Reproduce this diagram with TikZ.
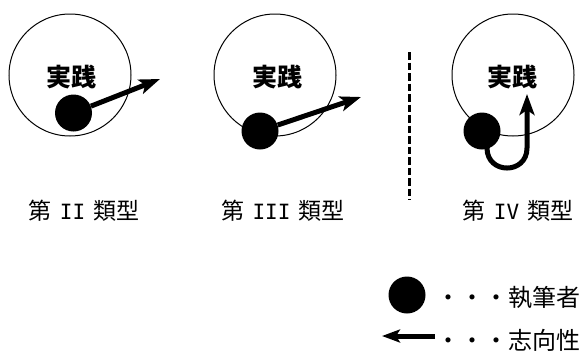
\documentclass[tikz,border=0pt]{standalone}
\usepackage{fontspec}
\setmainfont{Noto Sans CJK JP}
\newfontfamily\romnum{DejaVu Sans Mono}
\usetikzlibrary{arrows.meta}
\newcommand{\rn}[1]{\hspace{3pt}{\romnum\fontsize{21}{26}\selectfont #1}\hspace{3pt}}
\tikzset{
  ring/.style={circle, draw, line width=1pt, minimum size=122pt, inner sep=0pt},
  writer/.style={circle, fill=black, minimum size=37pt, inner sep=0pt},
  aim/.style={line width=5pt, -{Stealth[length=21pt,width=15pt,inset=5pt]}},
  label/.style={font=\fontsize{25}{28}\selectfont\bfseries, inner sep=0pt},
  caption/.style={font=\fontsize{23}{26}\selectfont, inner sep=0pt},
  legend/.style={font=\fontsize{24}{28}\selectfont, inner sep=0pt, anchor=west},
}
\begin{document}
\begin{tikzpicture}[x=1pt, y=-1pt]
\useasboundingbox (0,0) rectangle (588,351);
% panel II
\node[ring] (c1) at (70,75) {};
\node[label] (p1) at (71,77) {実践};
\coordinate (t1) at (160,79);
\node[writer] (d1) at (73.5,113) {};
\draw[aim] (d1) -- (t1);
\node[caption] (k1) at (84,211) {第 \rn{II} 類型};
% panel III
\node[ring] (c2) at (275,75) {};
\node[label] (p2) at (277,77) {実践};
\coordinate (t2) at (361,97);
\node[writer] (d2) at (260,131) {};
\draw[aim] (d2) -- (t2);
\node[caption] (k2) at (283,211) {第 \rn{III} 類型};
% divider
\coordinate (v1) at (409,52);
\coordinate (v2) at (409,200);
\draw[line width=3pt, dash pattern=on 7.5pt off 3pt] (v1) -- (v2);
% panel IV
\node[ring] (c3) at (513,75) {};
\node[label] (p3) at (512,77) {実践};
\coordinate (s3) at (487,131);
\coordinate (t3) at (527,94);
\draw[aim] (s3) -- (487,148) .. controls (487,174.7) and (527,174.7) .. (527,148) -- (t3);
\node[writer] (d3) at (482,131) {};
\node[caption] (k3) at (518,211) {第 \rn{IV} 類型};
% legend
\node[writer] (ld) at (407,295) {};
\node[legend] (lt1) at (436,298) {・・・執筆者};
\coordinate (la1) at (435,336);
\coordinate (la2) at (382,336);
\draw[line width=5pt, -{Stealth[length=18pt,width=13pt,inset=4pt]}] (la1) -- (la2);
\node[legend] (lt2) at (436,340) {・・・志向性};
\end{tikzpicture}
\end{document}
